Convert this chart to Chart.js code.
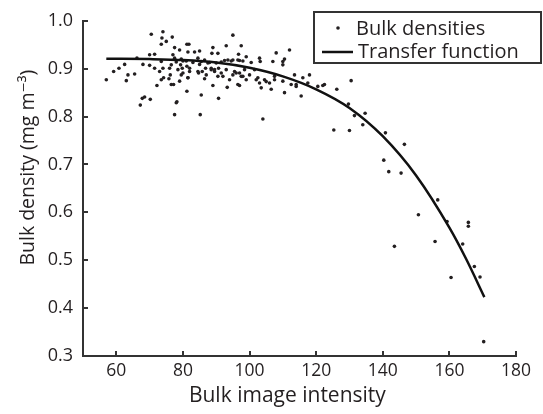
<!DOCTYPE html>
<html><head><meta charset="utf-8">
<script src="https://cdn.jsdelivr.net/npm/chart.js@4/dist/chart.umd.min.js"></script>
<style>html,body{margin:0;padding:0;background:#fff}#wrap{width:543px;height:414px}</style>
</head><body><div id="wrap"><canvas id="c" width="543" height="414"></canvas></div>
<script>
const seriesNames = ['Bulk densities', 'Transfer function'];
const xTitle = 'Bulk image intensity';
const yTitle = 'Bulk density (mg m\u207B\u00B3)';
const xTicks = [60, 80, 100, 120, 140, 160, 180];
const yTicks = [0.3, 0.4, 0.5, 0.6, 0.7, 0.8, 0.9, 1.0];

// Scatter: bulk densities
const densX = [57.0,59.2,60.8,62.5,63.0,63.5,65.5,66.2,68.0,67.2,67.8,68.5,70.2,70.5,70.0,71.5,70.0,71.5,72.2,73.0,
  73.5,74.0,73.7,75.0,76.8,73.5,74.0,74.2,73.5,76.0,76.5,76.5,77.2,75.8,77.5,77.0,78.2,77.5,79.0,79.5,
  79.3,79.5,79.8,81.2,81.8,81.5,81.2,81.0,81.2,81.5,82.0,83.5,85.0,85.2,85.5,84.5,85.0,84.5,85.8,86.8,
  86.5,87.0,87.5,88.5,89.0,89.0,76.2,77.5,
  95.0,93.0,97.5,90.5,93.5,95.0,96.5,99.0,98.0,90.7,92.0,94.0,93.3,90.7,95.5,97.0,97.5,99.0,98.5,103.0,
  103.2,101.5,102.5,103.0,103.5,104.5,104.0,106.0,106.5,107.0,108.0,107.5,110.0,110.0,110.5,112.0,110.5,110.0,112.5,113.5,
  114.0,115.5,116.0,118.0,117.5,120.5,122.5,89.5,
  78.0,80.0,83.0,85.5,88.0,90.0,91.5,92.5,94.5,97.0,100.5,96.7,88.7,
  78.5,80.0,82.0,84.7,88.5,89.5,91.5,93.0,95.0,96.0,97.0,98.0,100.0,79.0,81.5,86.5,90.5,96.5,78.0,
  102.0,105.0,107.5,114.0,
  130.5,126.2,122.0,129.7,134.7,134.0,131.5,125.3,130.0,140.8,146.5,140.3,141.8,145.5,156.5,143.5,150.7,155.7,159.3,164.0,
  165.7,165.7,160.5,167.5,169.2,170.3];
const densY = [0.877,0.894,0.901,0.909,0.875,0.887,0.889,0.922,0.909,0.824,0.838,0.841,0.836,0.972,0.929,0.930,0.907,0.901,0.865,0.894,
  0.951,0.977,0.964,0.957,0.966,0.915,0.901,0.881,0.877,0.901,0.908,0.867,0.867,0.879,0.944,0.929,0.831,0.804,0.939,0.920,
  0.908,0.887,0.901,0.951,0.951,0.935,0.853,0.916,0.905,0.881,0.894,0.935,0.937,0.804,0.845,0.922,0.909,0.894,0.894,0.901,
  0.918,0.887,0.912,0.898,0.865,0.944,0.887,0.922,
  0.970,0.948,0.948,0.932,0.918,0.918,0.918,0.925,0.916,0.901,0.884,0.877,0.861,0.838,0.894,0.865,0.884,0.877,0.898,0.922,
  0.915,0.898,0.881,0.870,0.860,0.877,0.795,0.870,0.857,0.915,0.933,0.884,0.908,0.915,0.920,0.939,0.850,0.874,0.867,0.887,
  0.863,0.843,0.881,0.887,0.870,0.863,0.867,0.894,
  0.914,0.916,0.913,0.915,0.913,0.912,0.914,0.917,0.916,0.917,0.913,0.930,0.932,
  0.898,0.891,0.901,0.891,0.901,0.898,0.891,0.898,0.887,0.891,0.891,0.884,0.887,0.874,0.881,0.879,0.884,0.867,0.829,
  0.877,0.873,0.877,0.867,
  0.875,0.857,0.865,0.826,0.807,0.783,0.802,0.772,0.771,0.766,0.742,0.709,0.685,0.682,0.626,0.529,0.595,0.539,0.581,0.534,
  0.579,0.571,0.464,0.487,0.465,0.330];

// Transfer function
const curveX = [57, 70, 80, 90, 100, 110, 120, 130, 140, 150, 160, 165, 170.5];
const curveY = [0.921, 0.920, 0.918, 0.913, 0.902, 0.884, 0.857, 0.818, 0.759, 0.677, 0.568, 0.503, 0.423];

const FONT = '"Open Sans", "DejaVu Sans", sans-serif';
const INK = '#231f20';

const inwardTicks = {
  id: 'inwardTicks',
  afterDraw(chart) {
    const c = chart.ctx, xs = chart.scales.x, ys = chart.scales.y;
    c.save();
    c.strokeStyle = '#333'; c.lineWidth = 2;
    c.beginPath();
    xTicks.forEach(v => { const p = Math.round(xs.getPixelForValue(v)); c.moveTo(p, ys.bottom); c.lineTo(p, ys.bottom - 5); });
    yTicks.forEach(v => { const p = Math.round(ys.getPixelForValue(v)); c.moveTo(xs.left, p); c.lineTo(xs.left + 5, p); });
    c.stroke();
    c.restore();
  }
};

const axisTitles = {
  id: 'axisTitles',
  afterDraw(chart) {
    const c = chart.ctx, a = chart.chartArea;
    c.save();
    c.fillStyle = INK; c.textAlign = 'center'; c.textBaseline = 'middle';
    c.font = '21px ' + FONT;
    c.fillText(xTitle, a.left + (a.right - a.left) * 0.472, 396);
    c.translate(28, a.top + (a.bottom - a.top) * 0.438);
    c.rotate(-Math.PI / 2);
    c.font = '19.5px ' + FONT;
    c.fillText(yTitle, 0, 0);
    c.restore();
  }
};

const boxLegend = {
  id: 'boxLegend',
  afterDraw(chart) {
    const c = chart.ctx;
    const L = 314, T = 12, W = 227, H = 51;
    c.save();
    c.fillStyle = '#fff'; c.fillRect(L, T, W, H);
    c.strokeStyle = '#333'; c.lineWidth = 2; c.strokeRect(L, T, W, H);
    c.fillStyle = INK;
    c.beginPath(); c.arc(338, 28, 1.8, 0, Math.PI * 2); c.fill();
    c.strokeStyle = '#111'; c.lineWidth = 2.5;
    c.beginPath(); c.moveTo(322, 52); c.lineTo(353, 52); c.stroke();
    c.font = '20px ' + FONT; c.textBaseline = 'middle'; c.textAlign = 'left';
    c.fillText(chart.data.datasets[0].label, 356, 29);
    c.fillText(chart.data.datasets[1].label, 358, 52);
    c.restore();
  }
};

new Chart(document.getElementById('c').getContext('2d'), {
  type: 'scatter',
  data: {
    datasets: [
      { label: seriesNames[0], data: densX.map((x, i) => ({ x: x, y: densY[i] })),
        pointRadius: 1.8, pointBackgroundColor: INK, pointBorderWidth: 0, showLine: false, order: 2 },
      { label: seriesNames[1], data: curveX.map((x, i) => ({ x: x, y: curveY[i] })),
        showLine: true, borderColor: '#111', borderWidth: 2.5, pointRadius: 0, fill: false,
        cubicInterpolationMode: 'monotone', order: 1 }
    ]
  },
  options: {
    responsive: false, animation: false, devicePixelRatio: 1,
    layout: { padding: { top: 15, right: 27, left: 0, bottom: 0 } },
    plugins: { legend: { display: false }, tooltip: { enabled: false } },
    scales: {
      x: {
        type: 'linear', min: 50, max: 180,
        afterBuildTicks: s => { s.ticks = xTicks.map(v => ({ value: v })); },
        afterFit: s => { s.height = 58; },
        grid: { display: true, drawOnChartArea: false, drawTicks: false },
        border: { display: true, color: '#333', width: 2 },
        ticks: { padding: 5, color: INK, font: { family: FONT, size: 17.5 }, autoSkip: false, maxRotation: 0 },
        title: { display: false, text: xTitle }
      },
      y: {
        type: 'linear', min: 0.3, max: 1.0,
        afterBuildTicks: s => { s.ticks = yTicks.map(v => ({ value: v })); },
        afterFit: s => { s.width = 83; },
        grid: { display: true, drawOnChartArea: false, drawTicks: false },
        border: { display: true, color: '#333', width: 2 },
        ticks: { padding: 10, color: INK, font: { family: FONT, size: 18 }, autoSkip: false, callback: v => Number(v).toFixed(1) },
        title: { display: false, text: yTitle }
      }
    }
  },
  plugins: [inwardTicks, axisTitles, boxLegend]
});
</script></body></html>
